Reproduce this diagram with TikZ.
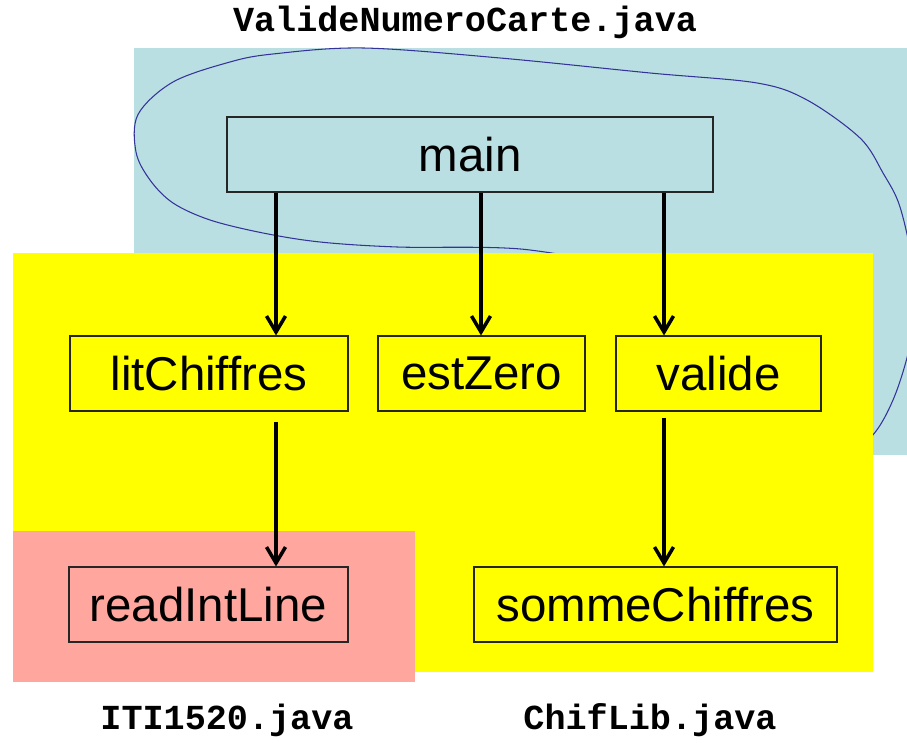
\documentclass[tikz,border=0pt]{standalone}
\usepackage{fontspec}
\setmainfont{Liberation Sans}
\setmonofont{Liberation Mono}
\usetikzlibrary{arrows.meta}
\definecolor{mainbg}{RGB}{186,223,226}
\definecolor{chifbg}{RGB}{255,255,0}
\definecolor{itibg}{RGB}{255,166,158}
\definecolor{loopcol}{RGB}{51,51,153}

\begin{document}
\begin{tikzpicture}[
  mainfile/.style={fill=mainbg},
  chiffile/.style={fill=chifbg},
  itifile/.style ={fill=itibg},
  func/.style    ={draw=black!85, line width=0.6pt, minimum height=1.5cm, inner sep=0pt,
                   font=\fontsize{27}{32}\selectfont},
  call/.style    ={-{Straight Barb[length=0.32cm,width=0.38cm]}, line width=2pt},
  fname/.style   ={font=\fontsize{20}{24}\selectfont\ttfamily\bfseries}]

  \useasboundingbox (0,0) rectangle (18.14,14.84);

  % ValideNumeroCarte.java (light blue, top right)
  \fill[mainfile] (2.68,5.74) rectangle (18.14,13.88);
  \node[fname] (fmain) at (9.30,14.40) {ValideNumeroCarte.java};

  % hand drawn loop round main
  \begin{scope}
    \clip (0,0) rectangle (18.14,14.84);
    \draw[loopcol, line width=0.6pt] plot[smooth cycle, tension=0.55] coordinates {
      (7.26,13.88) (10.00,13.68) (13.00,13.38) (15.14,13.18) (16.14,12.84)
      (17.20,12.08) (17.66,11.38) (18.00,10.70) (18.25,9.50) (18.25,8.20)
      (17.86,6.84) (17.30,6.00) (16.40,5.90) (14.60,7.60) (12.60,9.30)
      (10.60,9.84) (7.94,9.90) (6.40,10.00) (5.26,10.18) (4.20,10.44)
      (3.46,10.78) (3.00,11.24) (2.72,11.80) (2.76,12.55) (3.46,13.20)
      (4.60,13.60) (5.46,13.76)};
  \end{scope}

  % ChifLib.java (yellow) and ITI1520.java (pink)
  \fill[chiffile] (0.26,1.40) rectangle (17.46,9.78);
  \fill[itifile]  (0.26,1.20) rectangle (8.30,4.22);
  \node[fname] (fiti)  at (4.54,0.44) {ITI1520.java};
  \node[fname] (fchif) at (13.00,0.44) {ChifLib.java};

  % methods
  \node[func, minimum width=9.72cm] (main)  at (9.40,11.75) {main};
  \node[func, minimum width=5.56cm] (lit)   at (4.18,7.37)  {litChiffres};
  \node[func, minimum width=4.14cm] (zero)  at (9.63,7.37)  {estZero};
  \node[func, minimum width=4.10cm] (val)   at (14.37,7.37) {valide};
  \node[func, minimum width=5.58cm] (read)  at (4.17,2.75)  {readIntLine};
  \node[func, minimum width=7.26cm] (somme) at (13.11,2.75) {sommeChiffres};

  % calls
  \coordinate (xa) at (5.52,0);
  \coordinate (xb) at (9.62,0);
  \coordinate (xc) at (13.28,0);
  \draw[call] (main.south -| xa) -- (lit.north -| xa);
  \draw[call] (main.south -| xb) -- (zero.north -| xb);
  \draw[call] (main.south -| xc) -- (val.north -| xc);
  \draw[call, shorten <=0.2cm]  (lit.south -| xa) -- (read.north -| xa);
  \draw[call, shorten <=0.12cm] (val.south -| xc) -- (somme.north -| xc);
\end{tikzpicture}
\end{document}
